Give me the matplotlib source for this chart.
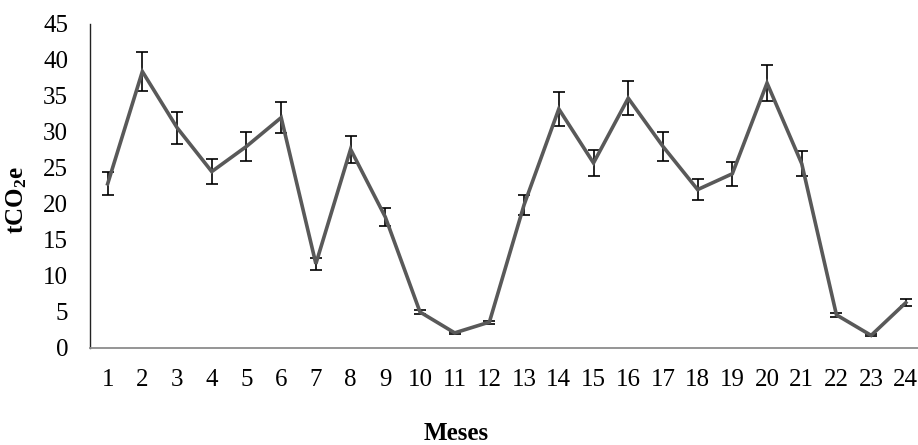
import matplotlib
matplotlib.use("Agg")
import matplotlib.pyplot as plt

meses = list(range(1, 25))
valores = [22.8, 38.4, 30.6, 24.5, 28.0, 32.0, 11.7, 27.6, 18.2, 5.0, 2.1, 3.6,
           19.9, 33.2, 25.7, 34.7, 28.0, 22.0, 24.2, 36.8, 25.6, 4.6, 1.75, 6.3]
erros = [1.6, 2.7, 2.2, 1.7, 2.0, 2.2, 0.8, 1.9, 1.2, 0.3, 0.15, 0.2,
         1.4, 2.3, 1.8, 2.4, 2.0, 1.5, 1.65, 2.55, 1.7, 0.3, 0.15, 0.45]
yticks = [0, 5, 10, 15, 20, 25, 30, 35, 40, 45]

plt.rcParams['font.family'] = ['Liberation Serif', 'DejaVu Serif']
plt.rcParams['mathtext.fontset'] = 'custom'
plt.rcParams['mathtext.rm'] = 'Liberation Serif'
plt.rcParams['mathtext.bf'] = 'Liberation Serif:bold'
plt.rcParams['mathtext.it'] = 'Liberation Serif:italic'

W, H = 918, 445
fig = plt.figure(figsize=(W / 100, H / 100), dpi=100)
left, right, top, bottom = 90.3, 923.2, 24.0, 348.0
ax = fig.add_axes([left / W, (H - bottom) / H, (right - left) / W, (bottom - top) / H])

ax.errorbar(meses, valores, yerr=erros, fmt='none', ecolor='black',
            elinewidth=1.2, capsize=4.5, capthick=1.2, zorder=2)
ax.plot(meses, valores, color='#595959', linewidth=2.6, zorder=3,
        solid_joinstyle='miter')

ax.set_xlim(0.5, 24.5)
ax.set_ylim(0, 45)
ax.set_xticks(meses)
ax.set_xticklabels([str(m) for m in meses])
ax.set_yticks(yticks)
ax.set_yticklabels([str(t) for t in yticks])
ax.tick_params(axis='both', length=0, labelsize=18, colors='black')
ax.tick_params(axis='y', pad=16)
ax.tick_params(axis='x', pad=15)

for s in ['top', 'right']:
    ax.spines[s].set_visible(False)
ax.spines['left'].set_color('#222222')
ax.spines['left'].set_linewidth(1.0)
ax.spines['bottom'].set_color('#8c8c8c')
ax.spines['bottom'].set_linewidth(1.3)

fig.text(17 / W, 1 - 200 / H, r'$\mathbf{tCO_2e}$', rotation=90,
         ha='center', va='center', fontsize=18)
fig.text(456 / W, (H - 440.5) / H, 'Meses', ha='center', va='baseline',
         fontsize=18, fontweight='bold')

fig.savefig('out.png', dpi=100)
